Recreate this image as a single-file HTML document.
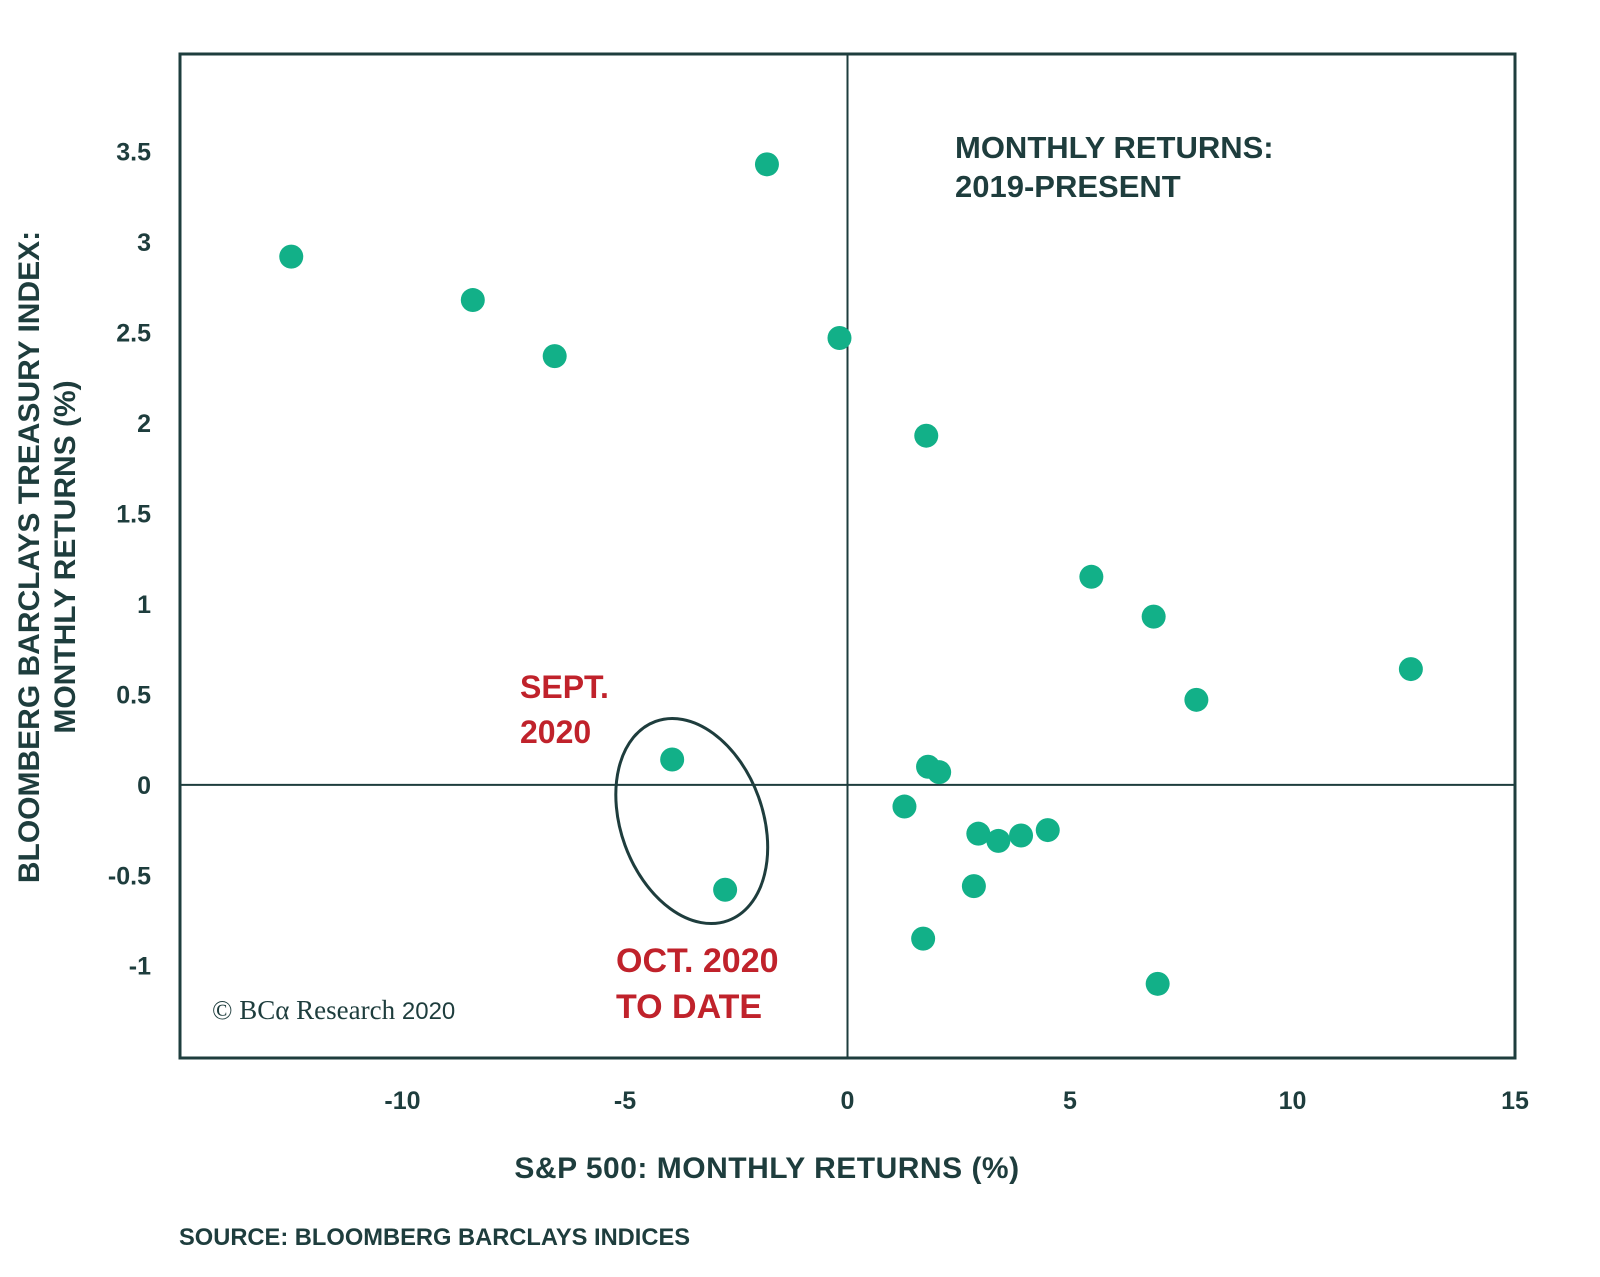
<!DOCTYPE html>
<html><head><meta charset="utf-8"><style>
html,body{margin:0;padding:0;background:#fff}
svg{display:block}
text{font-family:"Liberation Sans",sans-serif;font-weight:bold}
</style></head><body>
<svg id="chart" width="1600" height="1277" viewBox="0 0 1600 1277">
<g id="plot"></g>
</svg>
<script>
const xVals=[-12.5,-1.81,-8.42,-6.58,-0.18,1.77,5.48,6.88,12.66,7.84,-3.94,1.81,2.06,1.28,2.94,3.39,3.90,4.50,2.84,-2.75,1.70,6.97];
const yVals=[2.92,3.43,2.68,2.37,2.47,1.93,1.15,0.93,0.64,0.47,0.14,0.10,0.07,-0.12,-0.27,-0.31,-0.28,-0.25,-0.56,-0.58,-0.85,-1.10];
const xTicks=[-10,-5,0,5,10,15];
const yTicks=[-1,-0.5,0,0.5,1,1.5,2,2.5,3,3.5];
const xMin=-15,xMax=15,yMin=-1.51,yMax=4.04;
const L=180,R=1515,T=54,B=1058;
const sx=v=>L+(v-xMin)/(xMax-xMin)*(R-L);
const sy=v=>B-(v-yMin)/(yMax-yMin)*(B-T);
const NS="http://www.w3.org/2000/svg";
const g=document.getElementById('plot');
const dark="#1e3d3d";
function mk(tag,attrs,txt){const e=document.createElementNS(NS,tag);for(const k in attrs)e.setAttribute(k,attrs[k]);if(txt!==undefined)e.textContent=txt;g.appendChild(e);return e;}
let e;
e=mk('rect',{x:L,y:T,width:R-L,height:B-T,fill:'none',stroke:dark,'stroke-width':3});


e=mk('line',{x1:sx(0),x2:sx(0),y1:T,y2:B,stroke:dark,'stroke-width':2});


e=mk('line',{x1:L,x2:R,y1:sy(0),y2:sy(0),stroke:dark,'stroke-width':2});


xTicks.forEach(t=>{
  e=mk('text',{x:sx(t),y:1109,'text-anchor':'middle','font-size':25,fill:dark},String(t));
  
  
});
yTicks.forEach(t=>{
  e=mk('text',{x:151,y:sy(t)+9,'text-anchor':'end','font-size':25,fill:dark},String(t));
  
  
});
xVals.forEach((v,i)=>{
  e=mk('circle',{cx:sx(v),cy:sy(yVals[i]),r:12,fill:'#12b088'});
  
  
});
const ecx=sx(-3.5),ecy=sy(-0.2);
e=mk('ellipse',{cx:ecx,cy:ecy,rx:71,ry:106,fill:'none',stroke:dark,'stroke-width':3,transform:`rotate(-20 ${ecx} ${ecy})`});


</script>
<div style="position:absolute;left:0;top:0;width:1600px;height:1277px;pointer-events:none">
<svg width="1600" height="1277" viewBox="0 0 1600 1277">
<text x="955" y="158" font-size="31" fill="#1e3d3d">MONTHLY RETURNS:</text>
<text x="955" y="197" font-size="31" fill="#1e3d3d">2019-PRESENT</text>
<text x="520" y="698" font-size="32" fill="#c0222b">SEPT.</text>
<text x="520" y="743" font-size="32" fill="#c0222b">2020</text>
<text x="616" y="972" font-size="34" fill="#c0222b">OCT. 2020</text>
<text x="616" y="1018" font-size="34" fill="#c0222b">TO DATE</text>
<text x="212" y="1019" font-size="27" fill="#1e3d3d" style="font-family:'Liberation Serif',serif;font-weight:normal">© BCα Research <tspan font-family="Liberation Sans" font-size="24">2020</tspan></text>
<text x="767" y="1178" text-anchor="middle" font-size="30" letter-spacing="0.5" fill="#1e3d3d">S&amp;P 500: MONTHLY RETURNS (%)</text>
<text x="179" y="1245" font-size="23.7" fill="#1e3d3d">SOURCE: BLOOMBERG BARCLAYS INDICES</text>
<text transform="translate(39 557) rotate(-90)" text-anchor="middle" font-size="30" fill="#1e3d3d">BLOOMBERG BARCLAYS TREASURY INDEX:</text>
<text transform="translate(75 557) rotate(-90)" text-anchor="middle" font-size="30" fill="#1e3d3d">MONTHLY RETURNS (%)</text>
</svg></div>
</body></html>
